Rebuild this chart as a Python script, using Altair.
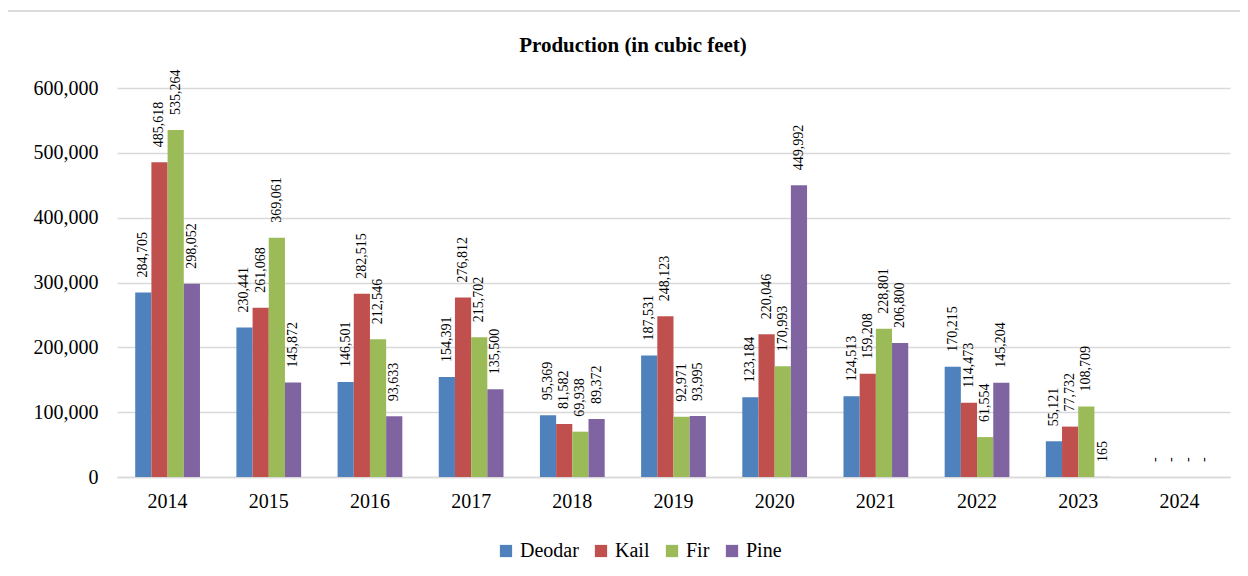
import altair as alt
import pandas as pd

years = ["2014", "2015", "2016", "2017", "2018", "2019", "2020", "2021", "2022", "2023", "2024"]
species = ["Deodar", "Kail", "Fir", "Pine"]
deodar = [284705, 230441, 146501, 154391, 95369, 187531, 123184, 124513, 170215, 55121, 0]
kail = [485618, 261068, 282515, 276812, 81582, 248123, 220046, 159208, 114473, 77732, 0]
fir = [535264, 369061, 212546, 215702, 69938, 92971, 170993, 228801, 61554, 108709, 0]
pine = [298052, 145872, 93633, 135500, 89372, 93995, 449992, 206800, 145204, 165, 0]
colors = ["#4F81BD", "#C0504D", "#9BBB59", "#8064A2"]
y_ticks = [0, 100000, 200000, 300000, 400000, 500000, 600000]
title_text = "Production (in cubic feet)"

rows = []
for name, vals in zip(species, [deodar, kail, fir, pine]):
    for yr, v in zip(years, vals):
        rows.append({"Year": yr, "Species": name, "Value": v,
                     "Label": f"{v:,}" if v else "-"})
df = pd.DataFrame(rows)

FONT = "Liberation Serif"

base = alt.Chart(df).encode(
    x=alt.X("Year:N", sort=years, title=None,
            scale=alt.Scale(paddingInner=0.36, paddingOuter=0.18),
            axis=alt.Axis(labelAngle=0, labelPadding=14, ticks=False, domainColor="#D9D9D9",
                          domainWidth=1.5, grid=False)),
    xOffset=alt.XOffset("Species:N", sort=species),
    y=alt.Y("Value:Q", title=None,
            scale=alt.Scale(domain=[0, 600000], nice=False),
            axis=alt.Axis(values=y_ticks, labelExpr="format(datum.value, ',')",
                          labelPadding=19, ticks=False, domain=False,
                          gridColor="#D9D9D9", gridWidth=1.5)),
)

bars = base.mark_bar().encode(
    color=alt.Color("Species:N", sort=species,
                    scale=alt.Scale(domain=species, range=colors),
                    legend=alt.Legend(title=None, orient="none", direction="horizontal",
                                      legendX=379, legendY=453, symbolType="square",
                                      symbolSize=150, symbolStrokeWidth=0,
                                      labelFont=FONT, labelFontSize=20, labelColor="#000",
                                      labelOffset=4, columnPadding=12))
)

labels = base.mark_text(angle=270, align="left", baseline="middle", dx=15,
                        font=FONT, fontSize=14, color="#000").encode(text="Label:N")

frame = alt.Chart(pd.DataFrame({"f": [0]})).mark_rect(
    fill=None, stroke="#D0D0D0", strokeWidth=1.5
).encode(x=alt.value(-110), x2=alt.value(1200), y=alt.value(-77), y2=alt.value(600))

title = alt.Chart(pd.DataFrame({"t": [title_text]})).mark_text(
    font=FONT, fontSize=21, fontWeight="bold", color="#000", align="center", baseline="middle"
).encode(text="t:N", x=alt.value(516), y=alt.value(-42))

chart = alt.layer(frame, bars, labels, title).properties(
    width=1113, height=389,
    autosize=alt.AutoSizeParams(type="none"),
    padding={"left": 109, "top": 80, "right": 10, "bottom": 90},
).configure(font=FONT).configure_view(stroke=None).configure_axis(
    labelFont=FONT, labelFontSize=20, labelColor="#000"
).configure_legend(
    labelFont=FONT, labelFontSize=20, labelColor="#000"
)

chart.save("out.html", embed_options={"renderer": "svg", "actions": False})
